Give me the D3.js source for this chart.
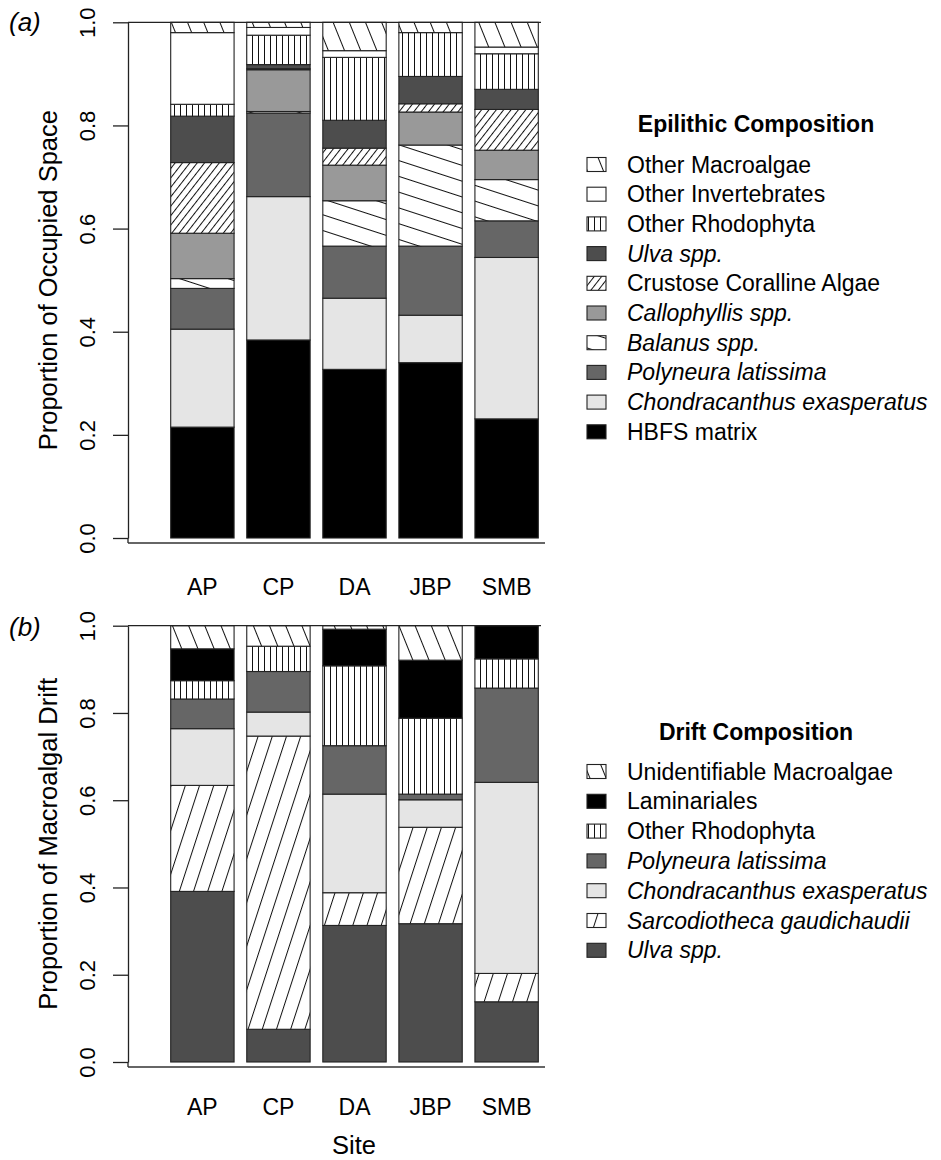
<!DOCTYPE html>
<html><head><meta charset="utf-8">
<script src="https://cdn.jsdelivr.net/npm/d3@7"></script>
<style>body{margin:0;background:#fff}svg{display:block;font-family:"Liberation Sans",Arial,sans-serif}</style>
</head><body><svg id="chart" width="941" height="1160"></svg>
<script>
// ---------- DATA ----------
const sites = ["AP", "CP", "DA", "JBP", "SMB"];
const yTicks = [0, 0.2, 0.4, 0.6, 0.8, 1.0];

// Epilithic composition (stacked bottom -> top)
const epiSeries = ["HBFS matrix", "Chondracanthus exasperatus", "Polyneura latissima", "Balanus spp.",
  "Callophyllis spp.", "Crustose Coralline Algae", "Ulva spp.", "Other Rhodophyta", "Other Invertebrates", "Other Macroalgae"];
const epiHBFS    = [0.215, 0.384, 0.327, 0.340, 0.231];
const epiChond   = [0.190, 0.278, 0.138, 0.092, 0.313];
const epiPoly    = [0.079, 0.162, 0.101, 0.134, 0.071];
const epiBalanus = [0.019, 0.003, 0.088, 0.196, 0.080];
const epiCallo   = [0.088, 0.081, 0.069, 0.064, 0.057];
const epiCCA     = [0.137, 0.002, 0.033, 0.016, 0.079];
const epiUlva    = [0.090, 0.008, 0.054, 0.053, 0.039];
const epiOR      = [0.023, 0.057, 0.122, 0.085, 0.069];
const epiOI      = [0.139, 0.015, 0.013, 0.000, 0.013];
const epiOM      = [0.020, 0.010, 0.055, 0.020, 0.048];

// Drift composition (stacked bottom -> top)
const drSeries = ["Ulva spp.", "Sarcodiotheca gaudichaudii", "Chondracanthus exasperatus", "Polyneura latissima",
  "Other Rhodophyta", "Laminariales", "Unidentifiable Macroalgae"];
const drUlva  = [0.391, 0.075, 0.313, 0.317, 0.138];
const drSarc  = [0.243, 0.672, 0.075, 0.221, 0.065];
const drChond = [0.130, 0.055, 0.226, 0.063, 0.438];
const drPoly  = [0.068, 0.093, 0.111, 0.013, 0.216];
const drOR    = [0.042, 0.058, 0.183, 0.174, 0.067];
const drLam   = [0.073, 0.000, 0.084, 0.133, 0.076];
const drUnid  = [0.053, 0.047, 0.008, 0.079, 0.000];

const epiValues = [epiHBFS, epiChond, epiPoly, epiBalanus, epiCallo, epiCCA, epiUlva, epiOR, epiOI, epiOM];
const drValues = [drUlva, drSarc, drChond, drPoly, drOR, drLam, drUnid];

const italicNames = new Set(["Ulva spp.", "Callophyllis spp.", "Balanus spp.", "Polyneura latissima",
  "Chondracanthus exasperatus", "Sarcodiotheca gaudichaudii"]);

// ---------- STYLES ----------
const svg = d3.select("#chart");
const defs = svg.append("defs");
function hatch(id, angle, spacing) {
  // angle: visual angle counterclockwise from horizontal (R convention)
  const p = defs.append("pattern").attr("id", id).attr("patternUnits", "userSpaceOnUse")
    .attr("width", spacing).attr("height", 40)
    .attr("patternTransform", `rotate(${90 - angle})`);
  p.append("rect").attr("width", spacing).attr("height", 40).attr("fill", "#fff");
  p.append("line").attr("x1", 0.5).attr("x2", 0.5).attr("y1", 0).attr("y2", 40)
    .attr("stroke", "#111").attr("stroke-width", 1);
  return `url(#${id})`;
}
const hMacro = hatch("hMacro", 112, 15);
const hRhodo = hatch("hRhodo", 90, 6);
const hCCA = hatch("hCCA", 52, 5.8);
const hBal = hatch("hBal", 162, 15);
const hSarc = hatch("hSarc", 72, 13.5);

const fillOf = {
  "HBFS matrix": "#000000",
  "Chondracanthus exasperatus": "#e5e5e5",
  "Polyneura latissima": "#666666",
  "Balanus spp.": hBal,
  "Callophyllis spp.": "#999999",
  "Crustose Coralline Algae": hCCA,
  "Ulva spp.": "#4d4d4d",
  "Other Rhodophyta": hRhodo,
  "Other Invertebrates": "#ffffff",
  "Other Macroalgae": hMacro,
  "Sarcodiotheca gaudichaudii": hSarc,
  "Laminariales": "#000000",
  "Unidentifiable Macroalgae": hMacro
};

// ---------- LAYOUT ----------
const FONT = 22;
const LFONT = 23;
const axisX = 128;
const x = d3.scaleBand().domain(sites).range([170.7, 538.3]).paddingInner(0.1667).paddingOuter(0);

function panel(cfg) {
  const y = d3.scaleLinear().domain([0, 1]).range([cfg.y0, cfg.y1]);
  const table = sites.map((s, i) => {
    const row = { site: s };
    cfg.series.forEach((k, j) => row[k] = cfg.values[j][i]);
    return row;
  });
  const stacked = d3.stack().keys(cfg.series)(table);
  const g = svg.append("g");
  stacked.forEach(layer => {
    g.append("g").selectAll("rect").data(layer.filter(d => d[1] - d[0] > 0)).join("rect")
      .attr("x", d => x(d.data.site))
      .attr("width", x.bandwidth())
      .attr("y", d => y(d[1]))
      .attr("height", d => y(d[0]) - y(d[1]))
      .attr("fill", fillOf[layer.key])
      .attr("stroke", "#222").attr("stroke-width", 1.1);
  });
  // axis
  const ax = svg.append("g").attr("transform", `translate(${axisX},0)`)
    .call(d3.axisLeft(y).tickValues(yTicks).tickFormat(d3.format(".1f")).tickSize(15).tickSizeOuter(0));
  ax.select(".domain").attr("stroke", "#222").attr("stroke-width", 1.3);
  ax.selectAll(".tick line").attr("stroke", "#222").attr("stroke-width", 1.3);
  ax.selectAll(".tick text").attr("x", null).attr("dy", "0.35em")
    .attr("transform", "translate(-41,0) rotate(-90)")
    .attr("text-anchor", "middle").attr("font-size", FONT).attr("fill", "#000")
    .attr("font-family", "Liberation Sans, Arial, sans-serif");
  // frame lines
  svg.append("line").attr("x1", axisX).attr("x2", axisX).attr("y1", cfg.y0).attr("y2", cfg.y0 + 5)
    .attr("stroke", "#222").attr("stroke-width", 1.3);
  svg.append("line").attr("x1", axisX).attr("x2", 545).attr("y1", cfg.y0 + 5).attr("y2", cfg.y0 + 5)
    .attr("stroke", "#333").attr("stroke-width", 1.6);
  svg.append("line").attr("x1", axisX).attr("x2", 541).attr("y1", cfg.y1).attr("y2", cfg.y1)
    .attr("stroke", "#222").attr("stroke-width", 1.3);
  // x labels
  svg.append("g").selectAll("text").data(sites).join("text")
    .attr("x", d => x(d) + x.bandwidth() / 2).attr("y", cfg.xLabY).attr("dy", "0.35em")
    .attr("text-anchor", "middle").attr("font-size", LFONT).text(d => d);
  // y title
  svg.append("text").attr("transform", `translate(48,${(cfg.y0 + cfg.y1) / 2}) rotate(-90)`)
    .attr("dy", "0.35em").attr("text-anchor", "middle").attr("font-size", 25.5).text(cfg.yTitle);
  // panel tag
  svg.append("text").attr("x", 9).attr("y", cfg.tagY).attr("dy", "0.35em")
    .attr("font-size", 26).attr("font-style", "italic").text(cfg.tag);
  // legend
  const lg = svg.append("g");
  lg.append("text").attr("x", 756).attr("y", cfg.legTitleY).attr("dy", "0.35em")
    .attr("text-anchor", "middle").attr("font-size", LFONT).attr("font-weight", "bold").text(cfg.legTitle);
  const items = cfg.series.slice().reverse();
  items.forEach((k, i) => {
    const cy = cfg.legY0 + i * cfg.legStep;
    lg.append("rect").attr("x", 587).attr("y", cy - 7).attr("width", 19).attr("height", 14)
      .attr("fill", fillOf[k]).attr("stroke", "#222").attr("stroke-width", 1.1);
    lg.append("text").attr("x", 627).attr("y", cy).attr("dy", "0.35em").attr("font-size", LFONT)
      .attr("font-style", italicNames.has(k) ? "italic" : "normal").text(k);
  });
}

panel({ y0: 538, y1: 22.3, series: epiSeries, values: epiValues, xLabY: 587,
  yTitle: "Proportion of Occupied Space", tag: "(a)", tagY: 22,
  legTitle: "Epilithic Composition", legTitleY: 123.5, legY0: 164.5, legStep: 29.7 });
panel({ y0: 1062, y1: 625.7, series: drSeries, values: drValues, xLabY: 1107,
  yTitle: "Proportion of Macroalgal Drift", tag: "(b)", tagY: 627,
  legTitle: "Drift Composition", legTitleY: 731.5, legY0: 771.5, legStep: 29.8 });

svg.append("text").attr("x", 354).attr("y", 1145).attr("dy", "0.35em").attr("text-anchor", "middle")
  .attr("font-size", 25.5).text("Site");
</script></body></html>
